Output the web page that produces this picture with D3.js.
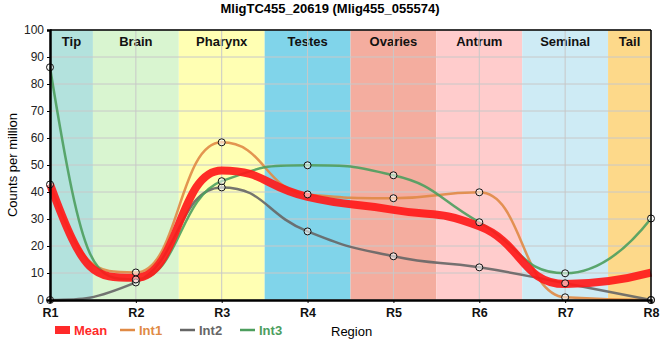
<!DOCTYPE html>
<html><head><meta charset="utf-8">
<script src="https://cdn.jsdelivr.net/npm/d3@7"></script>
<style>body{margin:0;background:#fff}svg{display:block;font-family:"Liberation Sans",Arial,sans-serif}</style>
</head><body><div id="chart"></div>
<script>
const regions = ["R1","R2","R3","R4","R5","R6","R7","R8"];
const tissues = ["Tip","Brain","Pharynx","Testes","Ovaries","Antrum","Seminal","Tail"];
const tissueColors = ["#b3e2dd","#d9f5d0","#ffffb3","#80d4ea","#f4ad9f","#ffcccc","#ceebf5","#fdd98a"];
const int1 = [42.8, 10.2, 58.4, 39.1, 37.7, 39.9, 1.0, 0];
const int2 = [0, 6.5, 41.7, 25.4, 16.2, 12.1, 6.2, 0];
const int3 = [86.2, 7.6, 44.0, 49.9, 46.2, 28.8, 9.9, 30.2];
const mean = [42.9, 8.2, 48.0, 38.2, 33.4, 27.3, 5.9, 10.1];
const yTicks = [0,10,20,30,40,50,60,70,80,90,100];

const W=660,H=360, m={l:50,r:9,t:30,b:60};
const svg=d3.select("#chart").append("svg").attr("width",W).attr("height",H);
const x=d3.scalePoint().domain(regions).range([m.l,W-m.r]);
const y=d3.scaleLinear().domain([0,100]).range([H-m.b,m.t]);
const step=x.step();

// smooth monotone-type bezier path through the points (pixel space)
function smoothPath(vals){
  const P=vals.map((v,i)=>[x(regions[i]),y(v)]);
  const n=P.length, h=step;
  const s=[]; for(let i=0;i<n-1;i++) s.push((P[i+1][1]-P[i][1])/h);
  const t=new Array(n);
  for(let i=1;i<n-1;i++){
    const s0=s[i-1], s1=s[i], p=(s0+s1)/2;
    t[i]=(Math.sign(s0)+Math.sign(s1))*Math.min(Math.abs(s0),Math.abs(s1),0.5*Math.abs(p))||0;
  }
  const path=d3.path();
  path.moveTo(P[0][0],P[0][1]);
  for(let i=0;i<n-1;i++){
    const [x0,y0]=P[i],[x1,y1]=P[i+1];
    let c1,c2;
    if(i===0){
      const m0=2*s[0]-t[1];
      c1=[x0+0.4*h, y0+0.5*h*m0];
      c2=[x1-0.5*h, y1-0.5*h*t[1]];
    } else if(i===n-2){
      const m1=2*s[i]-t[i];
      c1=[x0+h/3, y0+h/3*t[i]];
      c2=[x1-h/3, y1-h/3*m1];
    } else {
      c1=[x0+0.5*h, y0+0.5*h*t[i]];
      c2=[x1-0.5*h, y1-0.5*h*t[i+1]];
    }
    path.bezierCurveTo(c1[0],c1[1],c2[0],c2[1],x1,y1);
  }
  return path.toString();
}

// bands
const bands=svg.append("g");
tissues.forEach((t,i)=>{
  const cx=x(regions[i]);
  const x0=Math.max(m.l,cx-step/2), x1=Math.min(W-m.r,cx+step/2);
  bands.append("rect").attr("x",x0).attr("y",m.t).attr("width",x1-x0).attr("height",H-m.b-m.t).attr("fill",tissueColors[i]);
  bands.append("text").attr("x",(x0+x1)/2).attr("y",m.t+16).attr("text-anchor","middle")
    .attr("font-size",13).attr("font-weight","bold").attr("fill","#111").text(t);
});
// grid
const grid=svg.append("g").attr("stroke","#c8c8c8").attr("stroke-width",1);
yTicks.forEach(v=>grid.append("line").attr("x1",m.l).attr("x2",W-m.r).attr("y1",y(v)).attr("y2",y(v)));
regions.forEach(r=>grid.append("line").attr("x1",x(r)).attr("x2",x(r)).attr("y1",m.t).attr("y2",H-m.b));

// lines
const series=[
  {name:"Int1",data:int1,color:"#e08a45",w:2.5},
  {name:"Int2",data:int2,color:"#666666",w:2.5},
  {name:"Int3",data:int3,color:"#4d9e5e",w:2.5}
];
series.forEach(s=>svg.append("path").attr("d",smoothPath(s.data)).attr("fill","none").attr("stroke",s.color).attr("stroke-width",s.w).attr("opacity",0.9));
svg.append("path").attr("d",smoothPath(mean)).attr("fill","none").attr("stroke","#ff1a1a").attr("stroke-width",8).attr("opacity",0.92);
series.forEach(s=>svg.append("g").selectAll("circle").data(s.data).join("circle")
  .attr("cx",(d,i)=>x(regions[i])).attr("cy",d=>y(d)).attr("r",3.5)
  .attr("fill","rgba(255,255,255,0.55)").attr("stroke","#111").attr("stroke-width",1));

// frame
svg.append("line").attr("x1",m.l).attr("x2",W-m.r).attr("y1",m.t).attr("y2",m.t).attr("stroke","#000").attr("stroke-width",1.5);
svg.append("line").attr("x1",W-m.r).attr("x2",W-m.r).attr("y1",m.t).attr("y2",H-m.b).attr("stroke","#000").attr("stroke-width",1.5);

// axes
const ya=svg.append("g").attr("transform",`translate(${m.l},0)`).call(d3.axisLeft(y).tickValues(yTicks).tickSize(3));
ya.select(".domain").attr("stroke","#000").attr("stroke-width",2.5);
ya.selectAll("text").attr("font-size",12).attr("fill","#222").attr("font-family","Liberation Sans, Arial, sans-serif");
const xa=svg.append("g").attr("transform",`translate(0,${H-m.b})`).call(d3.axisBottom(x).tickSize(3));
xa.select(".domain").attr("stroke","#000").attr("stroke-width",2.5);
xa.selectAll("text").attr("font-size",12.5).attr("font-weight","bold").attr("fill","#111").attr("dy","0.9em").attr("font-family","Liberation Sans, Arial, sans-serif");

// title and labels
svg.append("text").attr("x",W/2).attr("y",13).attr("text-anchor","middle").attr("font-size",13).attr("font-weight","bold").text("MligTC455_20619 (Mlig455_055574)");
svg.append("text").attr("transform",`translate(17,${(m.t+H-m.b)/2}) rotate(-90)`).attr("text-anchor","middle").attr("font-size",13).text("Counts per million");
svg.append("text").attr("x",331).attr("y",336).attr("font-size",13).text("Region");

// legend
const leg=[{name:"Mean",color:"#ff2a2a",w:8,x:55},{name:"Int1",color:"#e08a45",w:2.5,x:120},{name:"Int2",color:"#666666",w:2.5,x:180},{name:"Int3",color:"#4d9e5e",w:2.5,x:240}];
leg.forEach(l=>{
  svg.append("line").attr("x1",l.x).attr("x2",l.x+15).attr("y1",330).attr("y2",330).attr("stroke",l.color).attr("stroke-width",l.w);
  svg.append("text").attr("x",l.x+19).attr("y",335).attr("font-size",13).attr("font-weight","bold").attr("fill",l.color).text(l.name);
});
</script></body></html>
